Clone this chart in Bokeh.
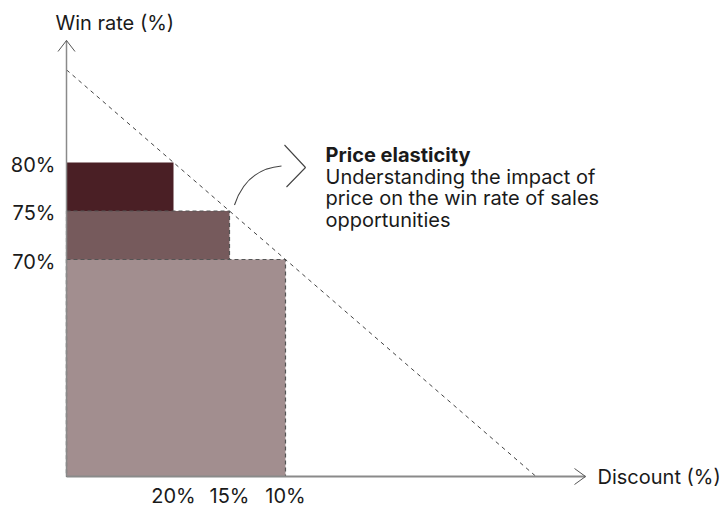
import numpy as np
from bokeh.plotting import figure
from bokeh.models import Range1d
from bokeh.core.properties import value
from bokeh.embed import file_html
from bokeh.resources import INLINE

# ---- data ----
discount = [20, 15, 10]          # discount (%)
win_rate = [80, 75, 70]          # win rate (%)
x_labels = ["20%", "15%", "10%"]
y_labels = ["80%", "75%", "70%"]
bar_colors = ["#4a1f25", "#765a5c", "#a28e8f"]
y_title = "Win rate (%)"
x_title = "Discount (%)"
note_title = "Price elasticity"
note_lines = ["Understanding the impact of",
              "price on the win rate of sales",
              "opportunities"]

# ---- layout (pixel geometry of the schematic) ----
W, H = 724, 507
PX_X = 11.2   # px per discount point (axis runs right-to-left)
PX_Y = 9.7    # px per win-rate point
REF_PX = (173, 162)   # screen position of the first (discount, win) pair

def dx(px):
    return discount[0] - (px - REF_PX[0]) / PX_X

def dy(py):
    return win_rate[0] + (REF_PX[1] - py) / PX_Y

def ox_(d):   # pixel offset -> data offset (x)
    return -d / PX_X

def oy_(d):   # pixel offset (downwards) -> data offset (y)
    return -d / PX_Y

FONT = value("Inter")
FS = "20px"
TXT = "#1a1a1a"

p = figure(width=W, height=H, output_backend="svg", toolbar_location=None,
           x_range=Range1d(dx(0), dx(W)), y_range=Range1d(dy(H), dy(0)),
           x_axis_type=None, y_axis_type=None, min_border=0)
p.grid.visible = False
p.outline_line_color = None
p.background_fill_color = "white"

ox, oy = dx(66), dy(476)         # origin of the schematic axes
x_tip, y_tip = dx(585), dy(40)

# bars (drawn largest-win first so the lower ones overlap)
p.quad(left=[ox] * 3, right=discount, bottom=[oy] * 3, top=win_rate,
       fill_color=bar_colors, line_color="#555555", line_alpha=[0, 1, 1],
       line_width=1.2, line_dash="4 3")

# elasticity line through the bar corners, from y axis to x axis
slope, intercept = np.polyfit(discount, win_rate, 1)
x_end = (oy - intercept) / slope
p.line([ox, x_end], [slope * ox + intercept, oy], line_color="#444444",
       line_width=1, line_dash="4 4")

# axes
p.line([ox, ox], [oy, y_tip], line_color="#8a8a8a", line_width=1.5)
p.line([ox, x_tip], [oy, oy], line_color="#8a8a8a", line_width=1.8)
# arrow heads (open chevrons)
p.multi_line(xs=[[ox + ox_(-8.5), ox, ox + ox_(8.5)],
                 [x_tip + ox_(-11), x_tip, x_tip + ox_(-11)]],
             ys=[[y_tip + oy_(11), y_tip, y_tip + oy_(11)],
                 [oy + oy_(-8), oy, oy + oy_(8)]],
             line_color="#555555", line_width=1)

# tick labels
p.text(x=discount, y=[oy] * 3, text=x_labels, text_align="center",
       text_baseline="top", y_offset=7, text_font=FONT,
       text_font_size=FS, text_color=TXT)
p.text(x=[ox] * 3, y=win_rate, text=y_labels, text_align="right",
       text_baseline="middle", x_offset=-11, y_offset=2, text_font=FONT,
       text_font_size=FS, text_color=TXT)

# axis titles
p.text(x=[dx(55)], y=[dy(22)], text=[y_title], text_align="left",
       text_baseline="middle", text_font=FONT, text_font_size=FS,
       text_color=TXT)
p.text(x=[dx(597)], y=[oy], text=[x_title], text_align="left",
       text_baseline="middle", text_font=FONT, text_font_size=FS,
       text_color=TXT)

# annotation: curved pointer + chevron
ax0, ay0 = discount[1], win_rate[1]   # anchored to the middle corner
p.quadratic(x0=[ax0 + ox_(5)], y0=[ay0 + oy_(-6)],
            x1=[ax0 + ox_(52)], y1=[ay0 + oy_(-45)],
            cx=[ax0 + ox_(17)], cy=[ay0 + oy_(-42)],
            line_color="#444444", line_width=1.1)
p.line([ax0 + ox_(55), ax0 + ox_(76), ax0 + ox_(57)],
       [ay0 + oy_(-66), ay0 + oy_(-43.5), ay0 + oy_(-24)],
       line_color="#444444", line_width=1.1)

p.text(x=[dx(325)], y=[dy(154)], text=[note_title], text_align="left",
       text_baseline="middle", text_font=FONT, text_font_size=FS,
       text_font_style="bold", text_color=TXT)
p.text(x=[dx(325)] * 3, y=[dy(176), dy(197.5), dy(219)], text=note_lines,
       text_align="left", text_baseline="middle", text_font=FONT,
       text_font_size=FS, text_color=TXT)

open("out.html", "w").write(file_html(p, INLINE))
